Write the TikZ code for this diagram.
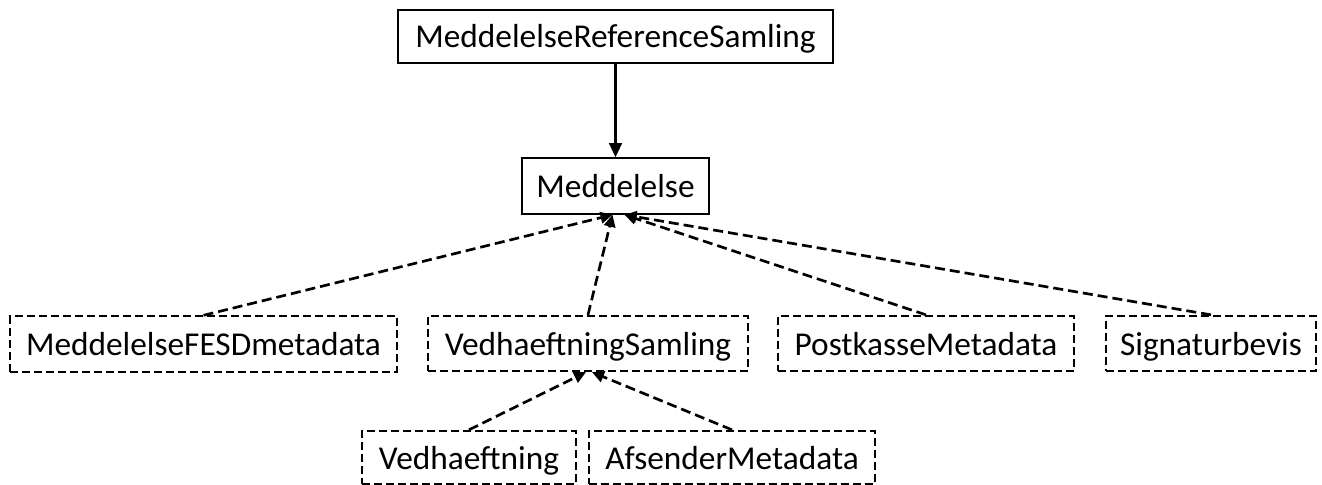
\documentclass[tikz,border=0pt]{standalone}
\usepackage{fontspec}
\setmainfont{Carlito}
\usetikzlibrary{arrows.meta}
\begin{document}
\begin{tikzpicture}[x=0.75pt,y=-0.75pt,
  box/.style={draw, line width=1.2pt, inner sep=0pt, font=\fontsize{25}{29}\selectfont, text height=18.5pt, text depth=1.25pt},
  dbox/.style={box, line width=1.5pt, dash pattern=on 6pt off 3pt},
  dep/.style={line width=2pt, dash pattern=on 7.5pt off 3.75pt, -{Triangle[length=9pt,width=8.5pt]}},
  sol/.style={line width=1.8pt, -{Triangle[length=10.5pt,width=9.5pt]}}]
\useasboundingbox (0,0) rectangle (1322,485);
\node[box, minimum width=326pt, minimum height=40pt] (top) at (615.5,36.5) {MeddelelseReferenceSamling};
\node[box, minimum width=140pt, minimum height=42pt] (m) at (615.5,186) {Meddelelse};
\node[dbox, minimum width=290pt, minimum height=41.5pt] (fesd) at (203.5,344) {MeddelelseFESDmetadata};
\node[dbox, minimum width=240pt, minimum height=41.5pt] (vs) at (588,343.5) {VedhaeftningSamling};
\node[dbox, minimum width=222pt, minimum height=41.5pt] (pk) at (926,343.5) {PostkasseMetadata};
\node[dbox, minimum width=157.5pt, minimum height=41.5pt] (sig) at (1211,343.5) {Signaturbevis};
\node[dbox, minimum width=160.5pt, minimum height=40pt] (ved) at (469,457.5) {Vedhaeftning};
\node[dbox, minimum width=214.5pt, minimum height=40pt] (afs) at (732,457.5) {AfsenderMetadata};
\coordinate (mL) at ([xshift=-2.25pt]m.south);
\coordinate (mR) at ([xshift=6.75pt]m.south);
\coordinate (vL) at ([xshift=-1.5pt]vs.south);
\coordinate (vR) at ([xshift=3pt]vs.south);
\draw[sol] (top.south) -- (m.north);
\draw[dep] (fesd.north) -- (mL);
\draw[dep] (vs.north) -- (mL);
\draw[dep] (pk.north) -- (mR);
\draw[dep] (sig.north) -- (mR);
\draw[dep] (ved.north) -- (vL);
\draw[dep] (afs.north) -- (vR);
\end{tikzpicture}
\end{document}
